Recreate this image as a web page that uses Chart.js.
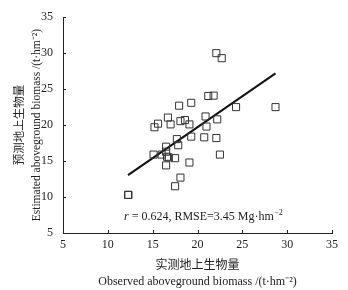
<!DOCTYPE html>
<html>
<head>
<meta charset="utf-8">
<script src="https://cdn.jsdelivr.net/npm/chart.js@4.4.0/dist/chart.umd.min.js"></script>
<style>
  html, body { margin: 0; padding: 0; background: #fff; }
  #wrap { width: 348px; height: 290px; }
</style>
</head>
<body>
<div id="wrap"><canvas id="scatter"></canvas></div>
<script>
// observed vs estimated biomass (t/hm2)
var observed = [22.1, 22.7, 21.2, 21.8, 17.95, 19.3, 24.3, 28.7, 16.7, 20.9, 22.2,
  15.2, 15.6, 17.0, 18.1, 18.6, 19.1, 21.0, 17.7, 19.3, 20.75, 22.1, 16.5, 17.85,
  16.5, 15.1, 16.0, 16.6, 16.8, 17.5, 22.5, 16.5, 19.1, 18.1, 17.5, 12.25, 12.3];
var estimated = [30.0, 29.3, 24.05, 24.1, 22.7, 23.1, 22.5, 22.5, 21.05, 21.2, 20.8,
  19.7, 20.2, 20.1, 20.55, 20.7, 20.1, 19.8, 18.05, 18.4, 18.3, 18.2, 17.0, 17.2,
  16.3, 15.9, 15.9, 15.6, 15.5, 15.4, 15.9, 14.4, 14.8, 12.7, 11.5, 10.3, 10.3];
var fitX = [12.25, 28.7];
var fitY = [13.05, 27.2];
var axisTicks = [5, 10, 15, 20, 25, 30, 35];

var serif = '"Liberation Serif", "Times New Roman", "Noto Sans CJK SC", serif';

var points = observed.map(function (v, i) { return { x: v, y: estimated[i] }; });
var fitLine = fitX.map(function (v, i) { return { x: v, y: fitY[i] }; });

// small tick marks pointing into the plot
var innerTicks = {
  id: 'innerTicks',
  afterDraw: function (chart) {
    var ctx = chart.ctx;
    var xs = chart.scales.x, ys = chart.scales.y;
    ctx.save();
    ctx.strokeStyle = '#222';
    ctx.lineWidth = 1;
    axisTicks.forEach(function (t) {
      var px = Math.round(xs.getPixelForValue(t)) + 0.5;
      ctx.beginPath();
      ctx.moveTo(px, ys.bottom);
      ctx.lineTo(px, ys.bottom - 3);
      ctx.stroke();
      var py = Math.round(ys.getPixelForValue(t)) + 0.5;
      ctx.beginPath();
      ctx.moveTo(xs.left, py);
      ctx.lineTo(xs.left + 3, py);
      ctx.stroke();
    });
    ctx.restore();
  }
};

// r / RMSE note inside the plot
var statNote = {
  id: 'statNote',
  afterDraw: function (chart) {
    var ctx = chart.ctx;
    var xs = chart.scales.x, ys = chart.scales.y;
    var x = xs.getPixelForValue(11.8);
    var y = ys.getPixelForValue(7.2);
    ctx.save();
    ctx.fillStyle = '#222';
    ctx.textBaseline = 'middle';
    ctx.textAlign = 'left';
    ctx.font = 'italic 12px ' + serif;
    ctx.fillText('r', x, y);
    x += ctx.measureText('r').width;
    ctx.font = '12px ' + serif;
    var s = ' = 0.624, RMSE=3.45 Mg\u00b7hm';
    ctx.fillText(s, x, y);
    x += ctx.measureText(s).width;
    ctx.font = '8px ' + serif;
    ctx.fillText('\u22122', x + 0.5, y - 4);
    ctx.restore();
  }
};

new Chart(document.getElementById('scatter'), {
  type: 'scatter',
  data: {
    datasets: [{
      data: points,
      pointStyle: 'rect',
      pointRadius: 5,
      pointHoverRadius: 5,
      borderColor: '#333',
      borderWidth: 1,
      backgroundColor: 'rgba(0,0,0,0)'
    }, {
      type: 'line',
      data: fitLine,
      borderColor: '#111',
      borderWidth: 2,
      pointRadius: 0,
      fill: false
    }]
  },
  options: {
    responsive: true,
    maintainAspectRatio: false,
    animation: false,
    layout: { padding: { left: 0, right: 16, top: 13, bottom: 0 } },
    plugins: { legend: { display: false }, tooltip: { enabled: false } },
    scales: {
      x: {
        type: 'linear',
        min: 5, max: 35,
        afterBuildTicks: function (s) { s.ticks = axisTicks.map(function (v) { return { value: v }; }); },
        afterFit: function (s) { s.height = 57; },
        grid: { display: false, drawTicks: false, tickLength: 0 },
        border: { display: true, color: '#222', width: 1 },
        ticks: { color: '#222', padding: 5, font: { family: serif, size: 12 } },
        title: {
          display: true,
          text: ['实测地上生物量', 'Observed aboveground biomass /(t\u00b7hm\u207b\u00b2)'],
          color: '#222',
          font: { family: serif, size: 12, lineHeight: 1.35 },
          padding: { top: 0, bottom: 0 }
        }
      },
      y: {
        type: 'linear',
        min: 5, max: 35,
        afterBuildTicks: function (s) { s.ticks = axisTicks.map(function (v) { return { value: v }; }); },
        afterFit: function (s) { s.width = 63; },
        grid: { display: false, drawTicks: false, tickLength: 0 },
        border: { display: true, color: '#222', width: 1 },
        ticks: { color: '#222', padding: 10, font: { family: serif, size: 12 } },
        title: {
          display: true,
          text: ['预测地上生物量', 'Estimated aboveground biomass /(t\u00b7hm\u207b\u00b2)'],
          color: '#222',
          font: { family: serif, size: 11.5, lineHeight: 1.5 },
          padding: { top: 11, bottom: 0 }
        }
      }
    }
  },
  plugins: [innerTicks, statNote]
});
</script>
</body>
</html>
